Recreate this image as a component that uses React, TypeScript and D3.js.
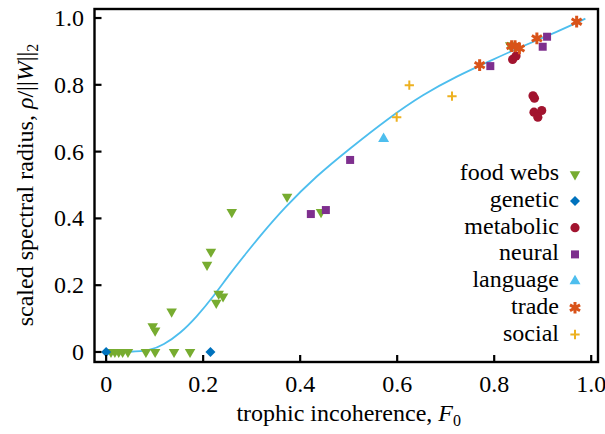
import React from 'react'
import * as d3 from 'd3'

// values: [trophic incoherence F0, scaled spectral radius]
const foodWebs = [
  [0.01, 0], [0.018, 0], [0.026, 0], [0.034, 0], [0.045, 0], [0.082, 0], [0.101, 0], [0.14, 0], [0.173, 0],
  [0.096, 0.077], [0.101, 0.064], [0.135, 0.121], [0.208, 0.261], [0.216, 0.3], [0.232, 0.174],
  [0.241, 0.166], [0.227, 0.147], [0.259, 0.419], [0.373, 0.465], [0.443, 0.419], [0.833, 0.918],
]
const genetic = [[0, 0], [0.215, 0]]
const metabolic = [
  [0.838, 0.876], [0.845, 0.886], [0.88, 0.767], [0.883, 0.76], [0.882, 0.718], [0.898, 0.723], [0.89, 0.703],
]
const neural = [[0.422, 0.413], [0.453, 0.425], [0.503, 0.575], [0.792, 0.856], [0.9, 0.914], [0.909, 0.944]]
const language = [[0.572, 0.638]]
const trade = [[0.77, 0.859], [0.836, 0.916], [0.843, 0.916], [0.852, 0.909], [0.888, 0.939], [0.97, 0.989]]
const social = [[0.599, 0.703], [0.625, 0.799], [0.713, 0.766]]

// fitted curve
const fitCurve = [
  [0, 0], [0.05, 0], [0.09, 0.004], [0.118, 0.021], [0.153, 0.056], [0.187, 0.106], [0.221, 0.166],
  [0.256, 0.236], [0.29, 0.298], [0.316, 0.345], [0.366, 0.43], [0.434, 0.528], [0.503, 0.61],
  [0.58, 0.698], [0.654, 0.772], [0.723, 0.826], [0.792, 0.872], [0.86, 0.917], [0.929, 0.958], [0.988, 0.998],
]

const xTicks = [0, 0.2, 0.4, 0.6, 0.8, 1.0]
const yTicks = [0, 0.2, 0.4, 0.6, 0.8, 1.0]
const tickLabel = (v: number) => (v === 0 ? '0' : d3.format('.1f')(v))

const seriesNames = ['food webs', 'genetic', 'metabolic', 'neural', 'language', 'trade', 'social']
const seriesData = [foodWebs, genetic, metabolic, neural, language, trade, social]

const W = 605, H = 434
const x = d3.scaleLinear().domain([-0.024, 1.014]).range([94.5, 598])
const y = d3.scaleLinear().domain([-0.03, 1.027]).range([362, 9])

const font = 'Liberation Serif, DejaVu Serif, serif'
const fs = 24

type Style = { path: string; fill: string; stroke: string; sw: number; rot: number }
const styles: Style[] = [
  { path: d3.symbol(d3.symbolTriangle, 48)()!, fill: '#77ac30', stroke: 'none', sw: 0, rot: 180 },
  { path: d3.symbol(d3.symbolSquare, 50)()!, fill: '#0072bd', stroke: 'none', sw: 0, rot: 45 },
  { path: d3.symbol(d3.symbolCircle, 66)()!, fill: '#a2142f', stroke: 'none', sw: 0, rot: 0 },
  { path: d3.symbol(d3.symbolSquare, 64)()!, fill: '#7e2f8e', stroke: 'none', sw: 0, rot: 0 },
  { path: d3.symbol(d3.symbolTriangle, 52)()!, fill: '#4dbeee', stroke: 'none', sw: 0, rot: 0 },
  { path: d3.symbol(d3.symbolAsterisk, 95)()!, fill: 'none', stroke: '#d95319', sw: 3, rot: 0 },
  { path: d3.symbol(d3.symbolPlus, 30)()!, fill: 'none', stroke: '#edb120', sw: 2, rot: 0 },
]

const Marker = ({ s, cx, cy }: { s: Style; cx: number; cy: number }) => (
  <path
    d={s.path}
    transform={`translate(${cx},${cy}) rotate(${s.rot})`}
    fill={s.fill}
    stroke={s.stroke}
    strokeWidth={s.sw}
  />
)

export default function App() {
  const line = d3.line<number[]>()
    .x(d => x(d[0]))
    .y(d => y(d[1]))
    .curve(d3.curveBasis)

  return (
    <div>
      <style>{'body{margin:0}'}</style>
      <svg width={W} height={H} style={{ display: 'block' }}>
        <path d={line(fitCurve) || ''} fill="none" stroke="#4dbeee" strokeWidth={1.8} />

        {seriesData.map((data, i) => (
          <g key={seriesNames[i]}>
            {data.map((d, j) => <Marker key={j} s={styles[i]} cx={x(d[0])} cy={y(d[1])} />)}
          </g>
        ))}

        {/* frame and inward ticks */}
        <rect x={94.5} y={9} width={503.5} height={353} fill="none" stroke="#000" strokeWidth={2.4} />
        {xTicks.map(t => (
          <g key={'x' + t}>
            <line x1={x(t)} x2={x(t)} y1={362} y2={355} stroke="#000" strokeWidth={2.2} />
            <text x={x(t)} y={392} textAnchor="middle" fontSize={fs} fontFamily={font}>{tickLabel(t)}</text>
          </g>
        ))}
        {yTicks.map(t => (
          <g key={'y' + t}>
            <line x1={94.5} x2={101.5} y1={y(t)} y2={y(t)} stroke="#000" strokeWidth={2.2} />
            <text x={84} y={y(t)} dy="0.33em" textAnchor="end" fontSize={fs} fontFamily={font}>{tickLabel(t)}</text>
          </g>
        ))}

        <text x={x(0.5)} y={421} textAnchor="middle" fontSize={fs} fontFamily={font}>
          trophic incoherence, <tspan fontStyle="italic">F</tspan>
          <tspan fontSize={16} dy={5}>0</tspan>
        </text>
        <text transform={`translate(33,${(y(0) + y(1)) / 2}) rotate(-90)`} textAnchor="middle" fontSize={fs} fontFamily={font}>
          scaled spectral radius, <tspan fontStyle="italic">ρ</tspan>/||<tspan fontStyle="italic">W</tspan>||
          <tspan fontSize={16} dy={5}>2</tspan>
        </text>

        {/* legend */}
        {seriesNames.map((name, i) => {
          const cy = 174.3 + i * 26.7
          return (
            <g key={'leg' + name}>
              <text x={559} y={cy + 6} textAnchor="end" fontSize={fs} fontFamily={font}>{name}</text>
              <Marker s={styles[i]} cx={575} cy={cy} />
            </g>
          )
        })}
      </svg>
    </div>
  )
}
